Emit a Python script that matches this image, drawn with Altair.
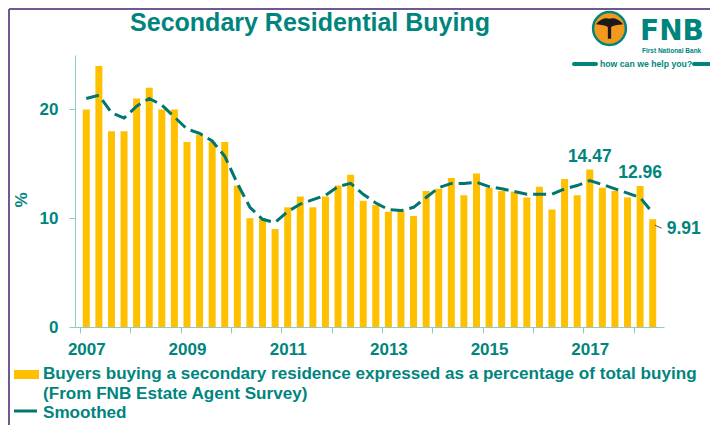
import altair as alt
import pandas as pd

# ---------------- data ----------------
year_labels = ["2007", "2009", "2011", "2013", "2015", "2017"]

# quarterly share of buyers buying a secondary residence, 2007Q1 .. 2018Q2
buying = [20.0, 24.0, 18.0, 18.0, 21.0, 22.0, 20.0, 20.0,
          17.0, 17.7, 17.0, 17.0, 13.0, 10.0, 10.0, 9.0,
          11.0, 12.0, 11.0, 12.0, 13.0, 14.0, 11.6, 11.2,
          10.6, 10.7, 10.2, 12.5, 12.7, 13.7, 12.1, 14.1,
          12.8, 12.5, 12.45, 11.9, 12.9, 10.8, 13.6, 12.1,
          14.47, 12.8, 12.5, 11.9, 12.96, 9.91]

smoothed = [21.0, 21.3, 19.7, 19.2, 20.3, 21.0, 20.4, 19.3,
            18.2, 17.8, 17.1, 15.7, 13.2, 11.0, 9.9, 9.6,
            10.6, 11.3, 11.7, 12.1, 12.9, 13.2, 12.2, 11.4,
            10.8, 10.7, 11.0, 11.9, 12.8, 13.2, 13.2, 13.3,
            12.9, 12.7, 12.45, 12.2, 12.2, 12.2, 12.7, 13.0,
            13.45, 13.1, 12.7, 12.3, 11.9, 10.5]

label_above = [40, 44]   # bars whose value is printed above them
label_right = [45]       # bar whose value is printed to the right

legend_bar = "Buyers buying a secondary residence expressed as a percentage of total buying"
legend_bar2 = "(From FNB Estate Agent Survey)"
legend_line = "Smoothed"
title_text = "Secondary Residential Buying"

df = pd.DataFrame({"i": list(range(len(buying))), "buying": buying, "smoothed": smoothed})

# ---------------- styling ----------------
TEAL = "#00857E"
LINE = "#00766F"
BAR = "#FFC000"
AXIS = "#8FCBC6"
PURPLE = "#6E5A91"
FONT = "Liberation Sans, Arial, sans-serif"

W, H = 589, 272
x_scale = alt.Scale(domain=[-0.5, len(buying) - 0.5], nice=False, zero=False)
y_scale = alt.Scale(domain=[0, 25], nice=False, zero=True)

label_expr = "[" + ",".join("'%s'" % y for y in year_labels) + "][round(datum.value / 8)]"

bars = alt.Chart(df).mark_bar(color=BAR, size=7).encode(
    x=alt.X("i:Q", scale=x_scale, title=None,
            axis=alt.Axis(values=[0, 8, 16, 24, 32, 40], labelExpr=label_expr,
                          ticks=False, grid=False, orient="bottom",
                          domainColor=AXIS, domainWidth=1,
                          labelFont=FONT, labelFontSize=17, labelFontWeight="bold",
                          labelColor=TEAL, labelPadding=14)),
    y=alt.Y("buying:Q", scale=y_scale, title=None,
            axis=alt.Axis(values=[0, 10, 20], grid=False, tickSize=6, tickColor=AXIS,
                          domainColor=AXIS, labelFont=FONT, labelFontSize=17,
                          labelFontWeight="bold", labelColor=TEAL, labelPadding=11)),
)

line = alt.Chart(df).mark_line(color=LINE, strokeWidth=3, strokeDash=[13, 6]).encode(
    x=alt.X("i:Q", scale=x_scale, title=None,
            axis=alt.Axis(values=[b - 0.5 for b in range(0, len(buying), 4)],
                          labels=False, ticks=True, tickSize=6, tickColor=AXIS,
                          domain=False, grid=False, orient="bottom")),
    y=alt.Y("smoothed:Q", scale=y_scale),
)

lab_above = alt.Chart(df).transform_filter(
    alt.FieldOneOfPredicate(field="i", oneOf=label_above)
).mark_text(font=FONT, fontSize=17.5, fontWeight="bold", color=TEAL,
            baseline="alphabetic", align="center", dy=-8).encode(
    x=alt.X("i:Q", scale=x_scale, axis=None),
    y=alt.Y("buying:Q", scale=y_scale),
    text=alt.Text("buying:Q", format=".2f"),
)

lab_right = alt.Chart(df).transform_filter(
    alt.FieldOneOfPredicate(field="i", oneOf=label_right)
).mark_text(font=FONT, fontSize=17.5, fontWeight="bold", color=TEAL,
            baseline="alphabetic", align="left", dx=14, dy=15).encode(
    x=alt.X("i:Q", scale=x_scale, axis=None),
    y=alt.Y("buying:Q", scale=y_scale),
    text=alt.Text("buying:Q", format=".2f"),
)

leader = alt.Chart(df).transform_filter(
    alt.FieldOneOfPredicate(field="i", oneOf=label_right)
).mark_rule(color="#555555", strokeWidth=1, xOffset=2, yOffset=6, x2Offset=9, y2Offset=9).encode(
    x=alt.X("i:Q", scale=x_scale, axis=None),
    x2="i:Q",
    y=alt.Y("buying:Q", scale=y_scale),
    y2="buying:Q",
)

one = pd.DataFrame({"a": [0]})


def txt(s, x, y, size, weight="bold", align="left", color=TEAL, font=FONT, baseline="alphabetic", angle=0):
    return alt.Chart(one).mark_text(text=s, font=font, fontSize=size, fontWeight=weight,
                                    align=align, baseline=baseline, color=color,
                                    angle=angle).encode(x=alt.value(x), y=alt.value(y))


def rect(x, x2, y, y2, color, radius=0):
    return alt.Chart(one).mark_rect(color=color, cornerRadius=radius).encode(
        x=alt.value(x), x2=alt.value(x2), y=alt.value(y), y2=alt.value(y2))


def rule(x, x2, y, y2, color, width):
    return alt.Chart(one).mark_rule(color=color, strokeWidth=width).encode(
        x=alt.value(x), x2=alt.value(x2), y=alt.value(y), y2=alt.value(y2))


deco = [
    # frame
    rule(-66, 640, -46, -46, PURPLE, 2),
    rule(-66, -66, -46, 370, PURPLE, 2),
    # title
    txt(title_text, 235, -24, 25, align="center"),
    # y title
    txt("%", -53, 145, 17, align="center", baseline="middle", angle=270),
    # legend
    rect(-61, -36, 315, 324, BAR),
    txt(legend_bar, -32, 324, 17.1),
    txt(legend_bar2, -32, 344, 17.1),
    rule(-61, -38, 356, 356, LINE, 3),
    txt(legend_line, -32, 363, 17.1),
    # logo
    alt.Chart(one).mark_circle(color="#F39A1E", opacity=1, size=1075, stroke=TEAL,
                               strokeWidth=2.5).encode(x=alt.value(534.5), y=alt.value(-26.5)),
    alt.Chart(one).mark_point(shape="M-1,-0.2 Q-0.5,-0.75 0,-0.6 Q0.5,-0.75 1,-0.2 Q0.35,-0.15 0.12,0.0 L0.12,0.85 L-0.12,0.85 L-0.12,0.0 Q-0.35,-0.15 -1,-0.2 Z",
                              filled=True, color="#1A1A1A", opacity=1, size=750).encode(
        x=alt.value(534.5), y=alt.value(-28)),
    txt("FNB", 565, -15, 28, font="DejaVu Sans, Liberation Sans, sans-serif"),
    txt("First National Bank", 567, -2, 6.5),
    txt("how can we help you?", 525, 12, 8.7),
    rect(497, 523, 7, 11, TEAL, 2),
    rect(617, 640, 7, 11, TEAL, 2),
]

chart = alt.layer(bars, line, lab_above, lab_right, leader, *deco).resolve_axis(
    x="independent"
).properties(
    width=W, height=H,
    padding={"left": 67, "top": 47, "right": 46, "bottom": 100},
    autosize=alt.AutoSizeParams(type="none"),
    background="white",
).configure_view(stroke=None)

chart.save("out.html", embed_options={"renderer": "svg", "actions": False})
